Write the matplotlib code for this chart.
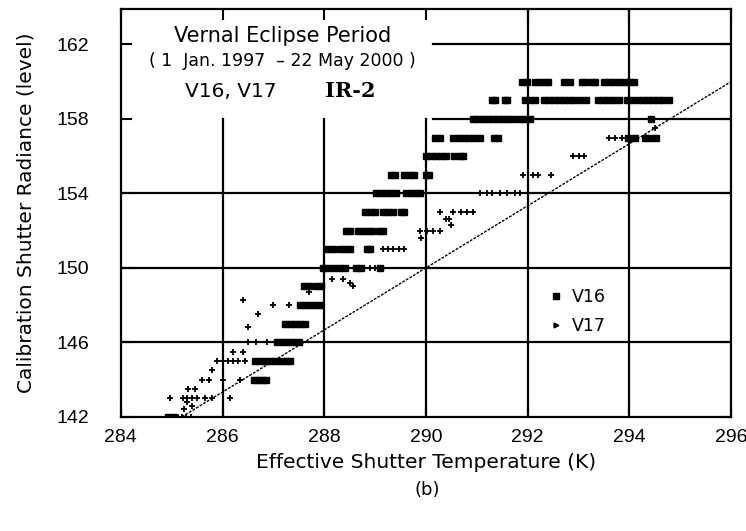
import matplotlib.pyplot as plt
from matplotlib.lines import Line2D

# V16 : (temperature, level), row by row
v16_T = [284.93, 285.02,
         286.62, 286.70, 286.78, 286.86,
         286.64, 286.74, 286.84, 286.94, 287.04, 287.14, 287.24, 287.32,
         287.08, 287.18, 287.28, 287.38, 287.50,
         287.22, 287.32, 287.42, 287.52, 287.62,
         287.52, 287.62, 287.72, 287.82, 287.92,
         287.60, 287.70, 287.84, 287.94,
         287.97, 288.07, 288.20, 288.30, 288.40, 288.62, 288.72, 289.10,
         288.08, 288.18, 288.30, 288.40, 288.50, 288.84, 288.90,
         288.42, 288.50, 288.66, 288.76, 288.86, 288.94, 289.08, 289.16,
         288.80, 288.90, 289.00, 289.16, 289.26, 289.36, 289.50, 289.56,
         289.02, 289.12, 289.22, 289.32, 289.42, 289.60, 289.70, 289.80, 289.88,
         289.32, 289.40, 289.56, 289.66, 289.76, 290.00, 290.06,
         290.00, 290.10, 290.20, 290.30, 290.40, 290.56, 290.66, 290.72,
         290.18, 290.28, 290.54, 290.64, 290.74, 290.84, 290.94, 291.06, 291.34, 291.42,
         293.98, 294.12, 294.30, 294.40, 294.52,
         290.92, 291.02, 291.12, 291.22, 291.32, 291.42, 291.52, 291.62, 291.72, 291.82,
         291.92, 292.04, 294.42,
         291.30, 291.36, 291.56, 291.60, 291.94, 292.04, 292.14, 292.32, 292.42, 292.52,
         292.62, 292.72, 292.82, 292.92, 293.02, 293.14, 293.38, 293.48, 293.58, 293.68,
         293.80, 293.96, 294.06, 294.16, 294.26, 294.36, 294.46, 294.56, 294.66, 294.78,
         291.88, 291.98, 292.14, 292.24, 292.34, 292.40, 292.72, 292.84, 293.06, 293.12,
         293.26, 293.32, 293.50, 293.60, 293.70, 293.80, 293.90, 294.00, 294.10]
v16_L = ([142] * 2 + [144] * 4 + [145] * 8 + [146] * 5 + [147] * 5 + [148] * 5
         + [149] * 4 + [150] * 8 + [151] * 7 + [152] * 8 + [153] * 8 + [154] * 9
         + [155] * 7 + [156] * 8 + [157] * 15 + [158] * 13 + [159] * 30 + [160] * 19)

# V17
v17_T = [285.12, 285.20, 285.28, 285.38,
         285.25, 285.40, 285.30,
         284.97, 285.22, 285.30, 285.40, 285.50, 285.66, 285.80, 286.15,
         285.33, 285.45,
         285.60, 285.74, 286.00, 286.35,
         285.80,
         285.90, 286.00, 286.10, 286.20, 286.30, 286.45,
         286.20, 286.40,
         286.50, 286.65, 286.88,
         286.50, 286.70, 287.00, 286.40, 287.30,
         287.70, 288.16, 288.36, 288.50, 288.56,
         288.90, 289.00,
         289.16, 289.26, 289.36, 289.46, 289.56,
         289.90, 289.88, 290.02, 290.14, 290.28,
         290.50, 290.40, 290.46,
         290.28, 290.54, 290.68, 290.80, 290.92,
         291.06, 291.20, 291.30, 291.45, 291.60, 291.75, 291.85,
         291.90, 292.10, 292.20, 292.45,
         292.90, 293.00, 293.10,
         293.60, 293.72, 293.86, 294.00, 294.50]
v17_L = [142, 142, 142, 142,
         142.4, 142.6, 142.8,
         143, 143, 143, 143, 143, 143, 143, 143,
         143.5, 143.5,
         144, 144, 144, 144,
         144.5,
         145, 145, 145, 145, 145, 145,
         145.5, 145.5,
         146, 146, 146,
         146.8, 147.5, 148, 148.3, 148,
         148.7, 149.4, 149.4, 149.2, 149,
         150, 150,
         151, 151, 151, 151, 151,
         151.6, 152, 152, 152, 152,
         152.3, 152.6, 152.6,
         153, 153, 153, 153, 153,
         154, 154, 154, 154, 154, 154, 154,
         155, 155, 155, 155,
         156, 156, 156,
         157, 157, 157, 157, 157.5]

# reference line
line_T = [285.2, 296.0]
line_L = [142, 160]

xticks = [284, 286, 288, 290, 292, 294, 296]
yticks = [142, 146, 150, 154, 158, 162]

plt.rcParams['font.family'] = ['DejaVu Sans']

fig = plt.figure(figsize=(7.46, 5.31), dpi=100)
ax = fig.add_axes([0.162, 0.215, 0.818, 0.768])
ax.set_xlim(284, 296)
ax.set_ylim(142, 163.9)

# grid drawn by hand so the title area stays white
yspan = 163.9 - 142
for x in [286, 288, 290]:
    ax.axvline(x, ymax=(158 - 142) / yspan, color='black', lw=1.6, zorder=1)
for x in [292, 294]:
    ax.axvline(x, color='black', lw=1.6, zorder=1)
for y in [146, 150, 154]:
    ax.axhline(y, color='black', lw=1.6, zorder=1)
for y in [158, 162]:
    ax.axhline(y, xmin=(290.14 - 284) / 12, color='black', lw=1.6, zorder=1)

ax.plot(line_T, line_L, color='black', lw=1.0, ls=(0, (2, 1)), zorder=2)
ax.plot(v16_T, v16_L, ls='none', marker='s', markersize=4.3, color='black', zorder=3)
ax.plot(v17_T, v17_L, ls='none', marker='+', markersize=5, mew=1.3, color='black', zorder=3)

ax.set_xticks(xticks)
ax.set_yticks(yticks)
ax.tick_params(direction='in', length=8, width=1.5, top=True, right=True,
               labelsize=14, labelfontfamily='Liberation Sans')
ax.tick_params(axis='x', pad=9)
ax.tick_params(axis='y', pad=23)
for s in ax.spines.values():
    s.set_linewidth(1.6)

ax.set_xlabel('Effective Shutter Temperature (K)', fontsize=14.5, labelpad=5)
ax.set_ylabel('Calibration Shutter Radiance (level)', fontsize=14.5, labelpad=15)
fig.text(0.573, 0.077, '(b)', ha='center', va='center', fontsize=13)

ax.text(0.265, 0.935, 'Vernal Eclipse Period', transform=ax.transAxes,
        ha='center', va='center', fontsize=15)
ax.text(0.265, 0.872, '( 1  Jan. 1997  \u2013 22 May 2000 )', transform=ax.transAxes,
        ha='center', va='center', fontsize=12.5)
ax.text(0.105, 0.798, 'V16, V17', transform=ax.transAxes,
        ha='left', va='center', fontsize=14.5)
ax.text(0.335, 0.798, 'IR-2', transform=ax.transAxes, ha='left', va='center',
        fontsize=15, fontweight='bold', family='DejaVu Serif')

handles = [Line2D([], [], ls='none', marker='s', markersize=4, color='black'),
           Line2D([], [], ls='none', marker='>', markersize=3.5, color='black')]
ax.legend(handles, ['V16', 'V17'], loc='upper left', bbox_to_anchor=(0.674, 0.355),
          frameon=False, fontsize=12.5, handlelength=1.0, handletextpad=0.4,
          labelspacing=0.65)

fig.savefig('out.png', dpi=100)
